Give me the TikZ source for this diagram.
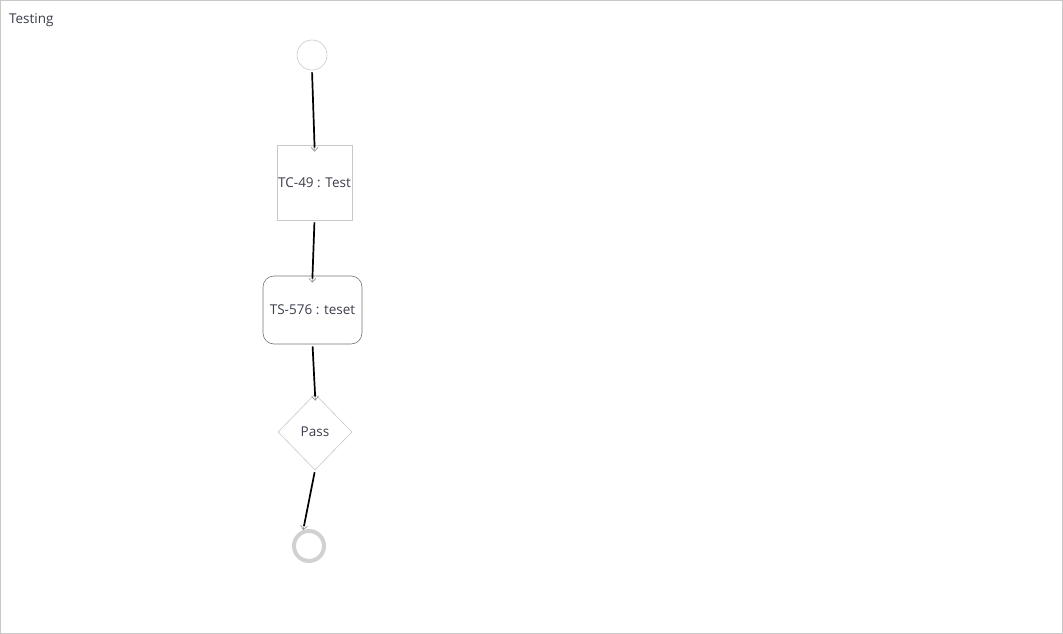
\documentclass[tikz,border=0pt]{standalone}
\usepackage{fontspec}
\setmainfont{Open Sans}
\usetikzlibrary{arrows.meta,shapes.geometric}

\definecolor{txtgray}{HTML}{3A3D4A}
\definecolor{framegray}{HTML}{C8C8C8}

\begin{document}
\begin{tikzpicture}[x=1pt,y=-1pt,font=\fontsize{13.5}{16}\selectfont,text=txtgray,
    flow/.style={draw=black!45,line width=0.6pt,shorten <=2pt,shorten >=-#1,
      -{Straight Barb[length=4pt,width=7pt]},
      postaction={draw=black,line width=1.7pt,shorten >=-#1+4pt,-}},
    flow/.default=7pt]
  \tikzstyle{startnode}=[circle,draw=framegray,line width=0.6pt,minimum size=30pt,inner sep=0pt]
  \tikzstyle{stopnode}=[circle,draw=black!18,line width=4pt,minimum size=30pt,inner sep=0pt]
  \tikzstyle{casebox}=[rectangle,draw=framegray,line width=0.6pt,minimum width=75pt,minimum height=75pt,inner sep=0pt]
  \tikzstyle{stepbox}=[rectangle,rounded corners=11pt,draw=black!55,line width=0.6pt,minimum width=99pt,minimum height=68pt,inner sep=0pt]
  \tikzstyle{gate}=[diamond,draw=framegray,line width=0.6pt,minimum width=74pt,minimum height=76pt,inner sep=0pt]

  \useasboundingbox (0,0) rectangle (1063,634);
  \draw[framegray,line width=1pt] (0.5,0.5) rectangle (1062.5,633.5);
  \node[anchor=west] (title) at (5.5,20) {Testing};

  \node[startnode] (start) at (312,55) {};
  \node[casebox] (tc49) at (314.5,182.5) {TC-49 : Test};
  \node[stepbox] (ts576) at (312.5,310) {TS-576 : teset};
  \node[gate] (pass) at (315,432) {Pass};
  \node[stopnode] (stop) at (309,546) {};

  \draw[flow] (start.south) -- (tc49.north);
  \draw[flow] (tc49.south) -- (ts576.north);
  \draw[flow] (ts576.south) -- (pass.north);
  \draw[flow=0pt] (pass.south) -- (stop.110);
\end{tikzpicture}
\end{document}
